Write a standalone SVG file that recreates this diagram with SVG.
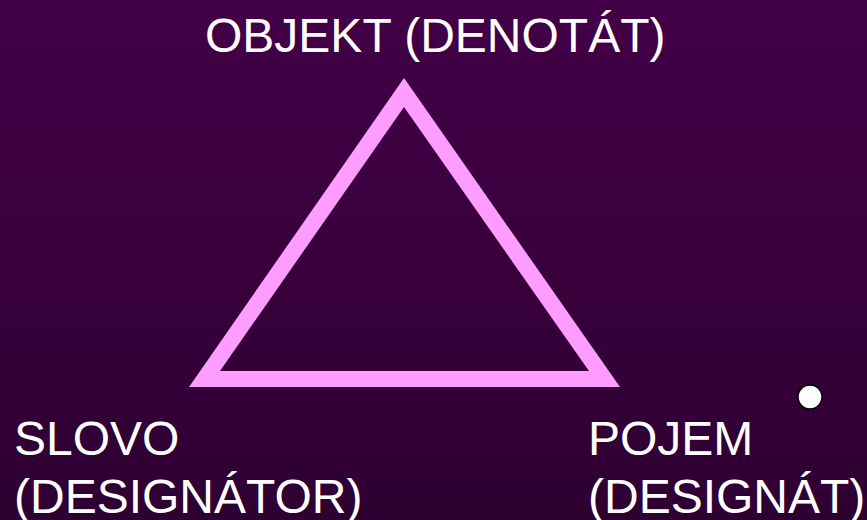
<svg xmlns="http://www.w3.org/2000/svg" width="867" height="520" viewBox="0 0 867 520">
  <defs>
    <linearGradient id="bg" x1="0" y1="0" x2="0" y2="1">
      <stop offset="0" stop-color="#430047"/>
      <stop offset="1" stop-color="#2E0032"/>
    </linearGradient>
  </defs>
  <style>
    .lbl { font-family: "Liberation Sans", Arial, sans-serif; font-size: 48px; fill: #FFFFFF; }
  </style>
  <rect x="0" y="0" width="867" height="520" fill="url(#bg)"/>
  <g id="triangle">
    <path d="M404,78 L620,387 L189,387 Z M404,107 L220,371 L589,371 Z" fill="#FF9CFF" fill-rule="evenodd"/>
  </g>
  <g id="objekt">
    <text class="lbl" x="205" y="52">OBJEKT (DENOTÁT)</text>
  </g>
  <g id="slovo">
    <text class="lbl" x="14" y="455">SLOVO</text>
    <text class="lbl" x="14" y="513">(DESIGNÁTOR)</text>
  </g>
  <g id="pojem">
    <text class="lbl" x="588" y="455">POJEM</text>
    <text class="lbl" x="588" y="513">(DESIGNÁT)</text>
  </g>
  <g id="dot">
    <circle cx="810" cy="397" r="12" fill="#FFFFFF" stroke="#000000" stroke-width="1.5"/>
  </g>
  <g id="connectors"></g>
</svg>
